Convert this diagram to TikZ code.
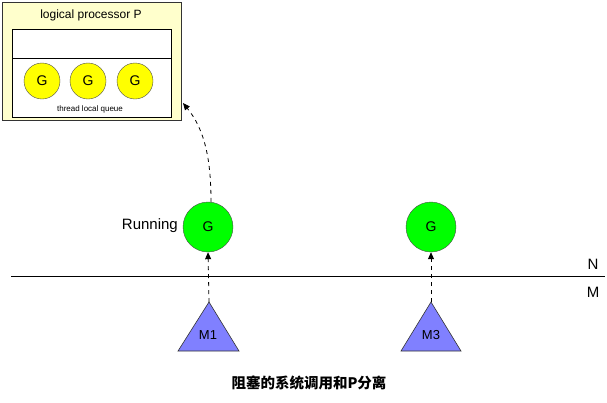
\documentclass[tikz,border=0pt]{standalone}
\usepackage{fontspec}
\setmainfont{Liberation Sans}
\newfontfamily\cjk{Noto Sans CJK SC}
\usetikzlibrary{arrows.meta}
\definecolor{pfill}{HTML}{FFFFCC}
\definecolor{gyellow}{HTML}{FFFF00}
\definecolor{ggreen}{HTML}{00FF00}
\definecolor{mblue}{HTML}{8080FF}
\begin{document}
\begin{tikzpicture}[x=1pt,y=-1pt,
  pbox/.style={draw=black!80, fill=pfill, line width=0.9pt},
  qbox/.style={draw=black, fill=white, line width=0.8pt},
  ygnode/.style={circle, draw=black!70, fill=gyellow, minimum size=36pt, inner sep=0pt, font=\fontsize{14}{14}\selectfont},
  ggnode/.style={circle, draw=black!70, fill=ggreen, minimum size=50pt, inner sep=0pt, font=\fontsize{14}{14}\selectfont},
  mtri/.style={draw=black!80, fill=mblue, line width=0.6pt},
  dasharrow/.style={dashed, dash pattern=on 4pt off 4pt, line width=0.8pt, -{Triangle[length=7pt,width=6pt]}},
  lbl/.style={inner sep=0pt, font=\fontsize{15}{15}\selectfont}]
\useasboundingbox (0,0) rectangle (607,402);
% logical processor P
\draw[pbox] (2,2) rectangle (181,120);
\node[inner sep=0pt, font=\fontsize{12}{12}\selectfont] (ptitle) at (91,15) {logical processor P};
\draw[qbox] (12,29) rectangle (171,117);
\draw[line width=0.8pt] (12,58) -- (171,58);
\node[ygnode] (y1) at (42,81) {G};
\node[ygnode] (y2) at (88,81) {G};
\node[ygnode] (y3) at (135,81) {G};
\node[inner sep=0pt, font=\fontsize{8}{8}\selectfont] (tlq) at (90,109) {thread local queue};
\coordinate (ptarget) at (183,103);
% running G
\node[ggnode] (g1) at (208,227) {G};
\node[lbl, anchor=east] (run) at (178,226) {Running};
\node[ggnode] (g3) at (431,227) {G};
% line
\draw[line width=1pt] (11,276) -- (605,276);
\node[lbl] (nlab) at (593,264) {N};
\node[lbl] (mlab) at (593,292) {M};
% M triangles
\draw[mtri] (209,302) -- (239,351) -- (178,351) -- cycle;
\coordinate (m1top) at (209,302);
\node[inner sep=0pt, font=\fontsize{13}{13}\selectfont] (m1) at (208,335) {M1};
\draw[mtri] (431,302) -- (461,351) -- (401,351) -- cycle;
\coordinate (m3top) at (431,302);
\node[inner sep=0pt, font=\fontsize{13}{13}\selectfont] (m3) at (431,335) {M3};
% arrows
\draw[dasharrow] (m1top) -- (g1.south);
\draw[dasharrow] (m3top) -- (g3.south);
\draw[dasharrow] ([xshift=3pt]g1.north) .. controls (211,160) and (205,130) .. (ptarget);
% caption
\node[inner sep=0pt, font=\cjk\bfseries\fontsize{14.5}{14.5}\selectfont] (cap) at (309,383) {阻塞的系统调用和P分离};
\end{tikzpicture}
\end{document}
